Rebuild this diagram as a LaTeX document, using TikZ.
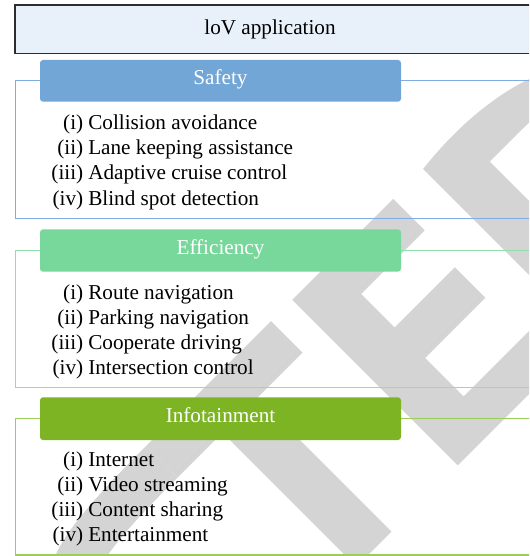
\documentclass[tikz,border=0pt]{standalone}
\usepackage{fontspec}
\setmainfont{Liberation Serif}
\definecolor{wm}{RGB}{212,212,212}
\definecolor{titlefill}{RGB}{232,240,250}
\definecolor{titleline}{RGB}{45,45,45}
\definecolor{safetyfill}{RGB}{114,166,214}
\definecolor{safetyline}{RGB}{128,172,226}
\definecolor{efffill}{RGB}{120,216,156}
\definecolor{effline}{RGB}{140,224,172}
\definecolor{infofill}{RGB}{124,180,36}
\definecolor{infoline}{RGB}{156,204,92}
\begin{document}
\begin{tikzpicture}[x=0.75pt,y=-0.75pt,
  txt/.style={font=\fontsize{15.9}{18}\selectfont, inner sep=0pt, text=black},
  hdrtxt/.style={font=\fontsize{15.9}{18}\selectfont, inner sep=0pt, text=white, anchor=base},
  hdrbox/.style={rounded corners=2.3pt, draw=none},
  framebox/.style={line width=1pt},
  lab/.style={txt, anchor=base east},
  itm/.style={txt, anchor=base west}]
\useasboundingbox (0,0) rectangle (529,556);
\fill[white] (0,0) rectangle (529,556);

\begin{scope}
\clip (0,0) rectangle (529,556);
% grey diagonal lettering in the background (letters C, T, E, D)
\begin{scope}[shift={(346.125pt,-346.125pt)}, rotate=45, x=0.75pt, y=0.75pt]
  \fill[wm] (-212,234) .. controls (-290,234) and (-330,230) .. (-354,220.6)
     .. controls (-380,210) and (-410,180) .. (-430,130) -- (-380,130)
     .. controls (-365,160) and (-340,179) .. (-317,183.8)
     .. controls (-295,188) and (-260,189.5) .. (-212,189.5) -- cycle;
  \fill[wm] (-212,189.5) -- (-35.4,189.5) -- (-35.4,234) -- (-212,234) -- cycle;
  \fill[wm] (-148.5,0) -- (-99,0) -- (-99,190) -- (-148.5,190) -- cycle;
  \fill[wm] (-5.4,0) -- (141,0) -- (141,44.5) -- (47.4,44.5) -- (47.4,99)
     -- (132.7,99) -- (132.7,142) -- (47.4,142) -- (47.4,189.5) -- (137.4,189.5)
     -- (137.4,234) -- (-5.4,234) -- cycle;
  \fill[wm, even odd rule] (179.6,0) -- (179.6,234)
     .. controls (240,241) and (330,238) .. (390,180)
     .. controls (420,150) and (420,70) .. (380,30)
     .. controls (350,5) and (300,0) .. (250,0) -- cycle
     (232,42) -- (232,192) -- (280,192) .. controls (340,192) and (365,160) .. (365,117)
     .. controls (365,74) and (340,42) .. (280,42) -- cycle;
\end{scope}

% title bar
\draw[fill=titlefill, draw=titleline, line width=1.1pt] (15,5) rectangle (545,53.3);
% group frames
\draw[framebox, draw=safetyline] (15.5,80.7) rectangle (545,218.3);
\draw[framebox, draw=effline] (15.5,250.7) rectangle (545,387.7);
\draw[framebox, draw=infoline] (15.5,418.7) rectangle (545,555);
\end{scope}

\node[txt, anchor=base] (title) at (270,35) {loV application};

% group headers
\fill[hdrbox, safetyfill] (40,60) rectangle (401,101.7);
\node[hdrtxt] (safety) at (220.5,84.5) {Safety};
\fill[hdrbox, efffill] (40,229.3) rectangle (401,271.7);
\node[hdrtxt] (efficiency) at (220.5,254.5) {Efficiency};
\fill[hdrbox, infofill] (40,397.3) rectangle (401,440);
\node[hdrtxt] (infotainment) at (220.5,422.5) {Infotainment};

% list items
\foreach \l/\t [count=\k from 0] in {(i)/Collision avoidance, (ii)/Lane keeping assistance,
    (iii)/Adaptive cruise control, (iv)/Blind spot detection}{
  \node[lab] (sl\k) at (83.5,129.3+25.3*\k) {\l};
  \node[itm] (si\k) at (88,129.3+25.3*\k) {\t};
}
\foreach \l/\t [count=\k from 0] in {(i)/Route navigation, (ii)/Parking navigation,
    (iii)/Cooperate driving, (iv)/Intersection control}{
  \node[lab] (el\k) at (83.5,299+25.1*\k) {\l};
  \node[itm] (ei\k) at (88,299+25.1*\k) {\t};
}
\foreach \l/\t [count=\k from 0] in {(i)/Internet, (ii)/Video streaming,
    (iii)/Content sharing, (iv)/Entertainment}{
  \node[lab] (il\k) at (83.5,466+25.2*\k) {\l};
  \node[itm] (ii\k) at (88,466+25.2*\k) {\t};
}
\end{tikzpicture}
\end{document}
